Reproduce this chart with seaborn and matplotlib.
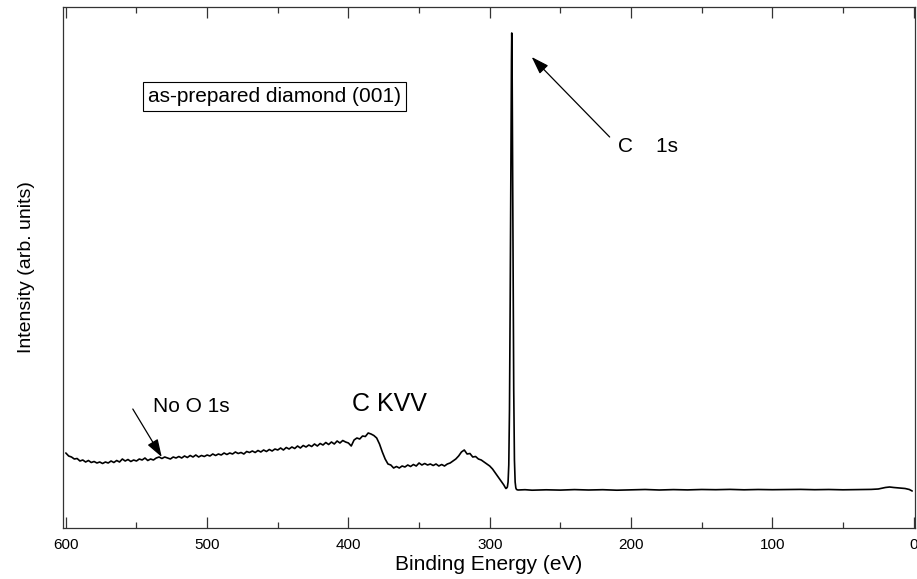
import numpy as np
import pandas as pd
import matplotlib
matplotlib.use("Agg")
import matplotlib.pyplot as plt
import seaborn as sns
from matplotlib.ticker import MultipleLocator

# ---- data (intensity in arbitrary units) ----
be_survey = [600, 598, 596, 594, 592, 590, 588, 586, 584, 582, 580, 578, 576, 574, 572, 570,
             568, 566, 564, 562, 560, 558, 556, 554, 552, 550, 548, 546, 544, 542, 540, 538,
             536, 534, 532, 530, 528, 526, 524, 522, 520, 518, 516, 514, 512, 510, 508, 506,
             504, 502, 500, 498, 496, 494, 492, 490, 488, 486, 484, 482, 480, 478, 476, 474,
             472, 470, 468, 466, 464, 462, 460, 458, 456, 454, 452, 450, 448, 446, 444, 442,
             440, 438, 436, 434, 432, 430, 428, 426, 424, 422, 420, 418, 416, 414, 412, 410,
             408, 406, 404, 402, 400, 398, 396, 394, 392, 390, 388, 386, 384, 382, 380, 378,
             376, 374, 372, 370, 368, 366, 364, 362, 360, 358, 356, 354, 352, 350, 348, 346,
             344, 342, 340, 338, 336, 334, 332, 330, 328, 326, 324, 322, 320, 318, 316, 314,
             312, 310, 308, 306, 304, 302, 300, 298, 296, 294, 292, 290]
int_survey = [37, 34, 33, 31, 31.5, 29, 30, 28, 29.5, 27.5, 28.5, 27, 28, 26.5, 28, 27,
              29, 27.5, 29.5, 28, 31, 29, 30.5, 28.5, 30, 29, 31, 30, 32, 29.5, 31, 30,
              32, 33, 31.5, 33, 32, 31, 33, 32, 33.5, 32, 34, 32.5, 34.5, 33, 35, 33,
              34.5, 33.5, 35, 34, 36, 34.5, 36, 35, 37, 35.5, 37, 36, 38, 36.5, 37.5, 36,
              38.5, 37.5, 39, 37.5, 39.5, 38, 40, 38.5, 40.5, 39, 41, 40, 42, 40, 42.5, 41,
              43, 41.5, 44, 42, 44.5, 43, 45, 43.5, 46, 44, 46.5, 45, 47.5, 45.5, 48, 46,
              49, 47, 49.5, 48, 47, 44, 50, 52, 51, 54, 53.5, 57, 56, 54.5, 52, 46,
              38, 31, 26, 25, 22, 23.5, 22, 24, 23, 25, 23.5, 25.5, 24, 27, 25, 26.5,
              25, 26, 24.5, 26, 24, 25.5, 24, 26, 27, 29, 31, 34, 38, 40, 36, 36.5,
              33, 33.5, 31, 30, 28, 26, 24, 21, 17, 13, 9, 5]

be_c1s = [289, 288.5, 288, 287.5, 287, 286.5, 286, 285.5, 285, 284.6, 284.4, 284.2,
          284, 283.5, 283, 282.5, 282, 281.5, 281]
int_c1s = [2.5, 1.5, 2, 3, 8, 25, 80, 190, 330, 430, 457, 440,
           380, 230, 100, 30, 8, 2, 0.5]

be_base = [280, 275, 270, 260, 250, 240, 230, 220, 210, 200, 190, 180, 170, 160, 150, 140,
           130, 120, 110, 100, 90, 80, 70, 60, 50, 40, 30, 25, 20, 17, 14, 10, 6, 3, 1]
int_base = [0, 0.3, -0.2, 0.2, -0.1, 0.4, 0, 0.3, -0.2, 0.2, 0.5, 0, 0.4, 0.1, 0.5, 0.3,
            0.6, 0.2, 0.5, 0.3, 0.4, 0.6, 0.3, 0.5, 0.2, 0.4, 0.6, 1, 2.5, 3, 2.5, 2, 1.5, 0.5, -1]

xticks = [600, 500, 400, 300, 200, 100, 0]

df = pd.DataFrame({
    "Binding Energy (eV)": be_survey + be_c1s + be_base,
    "Intensity": int_survey + int_c1s + int_base,
})

# ---- style ----
sns.set_theme(style="ticks")
plt.rcParams["font.family"] = ["Liberation Sans", "DejaVu Sans"]
plt.rcParams["text.color"] = "black"

fig = plt.figure(figsize=(9.17, 5.79), dpi=100)
ax = fig.add_axes([63 / 917, 1 - 528 / 579, (915 - 63) / 917, (528 - 7) / 579])

sns.lineplot(data=df, x="Binding Energy (eV)", y="Intensity", ax=ax,
             color="black", linewidth=1.2, estimator=None, sort=False)

ax.set_xlim(602, -1)
ax.set_ylim(-38, 483)
ax.xaxis.set_major_locator(MultipleLocator(100))
ax.xaxis.set_minor_locator(MultipleLocator(50))
ax.set_xticks(xticks)
ax.set_xticklabels([str(t) for t in xticks])
ax.tick_params(axis="x", which="major", direction="in", length=8, width=0.9,
               top=True, bottom=True, labelsize=11, pad=7, colors="#333333",
               labelcolor="black")
ax.tick_params(axis="x", which="minor", direction="in", length=4.5, width=0.9,
               top=True, bottom=True, colors="#333333")
ax.tick_params(axis="y", which="both", left=False, right=False, labelleft=False)
for s in ax.spines.values():
    s.set_visible(True)
    s.set_linewidth(0.9)
    s.set_color("#333333")

ax.set_xlabel("Binding Energy (eV)", fontsize=15, labelpad=2, color="black")
ax.set_ylabel("Intensity (arb. units)", fontsize=14, labelpad=20, color="black")

# ---- annotations ----
ax.text(541.5, 394, "as-prepared diamond (001)", fontsize=15, ha="left", va="center",
        color="black",
        bbox=dict(boxstyle="square,pad=0.24", fc="white", ec="black", lw=0.8))

ax.text(209.4, 343, "C    1s", fontsize=15, ha="left", va="center", color="black")
ax.annotate("", xy=(270.3, 433), xytext=(215.1, 353),
            arrowprops=dict(arrowstyle="-|>,head_length=0.6,head_width=0.2",
                            mutation_scale=18, color="black", lw=0.9,
                            shrinkA=0, shrinkB=0))

ax.text(538.4, 83, "No O 1s", fontsize=15, ha="left", va="center", color="black")
ax.annotate("", xy=(532.1, 33), xytext=(552.6, 81),
            arrowprops=dict(arrowstyle="-|>,head_length=0.6,head_width=0.2",
                            mutation_scale=18, color="black", lw=0.9,
                            shrinkA=0, shrinkB=0))

ax.text(397.5, 86, "C KVV", fontsize=18, ha="left", va="center", color="black")

fig.savefig("out.png", dpi=100)
